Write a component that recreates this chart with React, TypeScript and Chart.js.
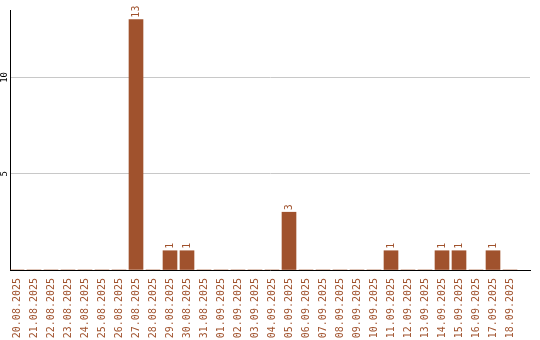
import { useEffect, useRef } from 'react';
import { Chart, registerables } from 'chart.js';

Chart.register(...registerables);

const categories = [
  '20.08.2025', '21.08.2025', '22.08.2025', '23.08.2025', '24.08.2025',
  '25.08.2025', '26.08.2025', '27.08.2025', '28.08.2025', '29.08.2025',
  '30.08.2025', '31.08.2025', '01.09.2025', '02.09.2025', '03.09.2025',
  '04.09.2025', '05.09.2025', '06.09.2025', '07.09.2025', '08.09.2025',
  '09.09.2025', '10.09.2025', '11.09.2025', '12.09.2025', '13.09.2025',
  '14.09.2025', '15.09.2025', '16.09.2025', '17.09.2025', '18.09.2025',
];
const counts = [0, 0, 0, 0, 0, 0, 0, 13, 0, 1, 1, 0, 0, 0, 0, 0, 3, 0, 0, 0, 0, 0, 1, 0, 0, 1, 1, 0, 1, 0];
const yTickLabels = [5, 10];
const yGridValues = [0, 5, 10];

const BAR = '#a0522d';
const MONO = "'DejaVu Sans Mono', 'Liberation Mono', monospace";

const labelsPlugin = {
  id: 'customLabels',
  afterDraw(chart: any) {
    const ctx = chart.ctx;
    const meta = chart.getDatasetMeta(0);
    ctx.save();
    ctx.font = `10px ${MONO}`;
    ctx.fillStyle = BAR;
    ctx.textAlign = 'left';
    ctx.textBaseline = 'middle';
    meta.data.forEach((el: any, i: number) => {
      const v = counts[i];
      if (!v) return;
      ctx.save();
      ctx.translate(el.x, el.y - 2);
      ctx.rotate(-Math.PI / 2);
      ctx.fillText(String(v), 0, 0);
      ctx.restore();
    });
    const y = chart.scales.y;
    ctx.fillStyle = '#000';
    ctx.font = `9px ${MONO}`;
    ctx.textAlign = 'center';
    yTickLabels.forEach((t) => {
      const py = y.getPixelForValue(t);
      ctx.save();
      ctx.translate(5, py);
      ctx.rotate(-Math.PI / 2);
      ctx.fillText(String(t), 0, 0);
      ctx.restore();
    });
    ctx.restore();
  },
};

export default function App() {
  const ref = useRef<HTMLCanvasElement | null>(null);
  useEffect(() => {
    if (!ref.current) return;
    const chart = new Chart(ref.current, {
      type: 'bar',
      data: {
        datasets: [
          {
            data: counts.map((v, i) => ({ x: i, y: v })) as any,
            backgroundColor: BAR,
            borderWidth: 0,
            barThickness: 14,
          },
        ],
      },
      options: {
        animation: false,
        responsive: true,
        maintainAspectRatio: false,
        layout: { padding: { top: 10, right: 10, left: 0, bottom: 0 } },
        plugins: { legend: { display: false }, tooltip: { enabled: false } },
        scales: {
          x: {
            type: 'linear',
            offset: false,
            min: -7 / 17,
            max: 513 / 17,
            grid: { display: false, drawTicks: false },
            border: { display: true, color: '#000', width: 1 },
            afterBuildTicks: (scale: any) => {
              scale.ticks = categories.map((_, i) => ({ value: i }));
            },
            afterFit: (scale: any) => {
              scale.height = 70;
              scale.paddingLeft = 0;
              scale.paddingRight = 0;
            },
            ticks: {
              autoSkip: false,
              minRotation: 90,
              maxRotation: 90,
              padding: 8,
              color: BAR,
              font: { family: MONO, size: 10 },
              callback: (v: any) => categories[Math.round(Number(v))] ?? '',
            },
          },
          y: {
            min: 0,
            max: 13.5,
            ticks: { display: false, stepSize: 5 },
            grid: { color: '#c8c8c8', drawTicks: false },
            border: { display: true, color: '#000', width: 1 },
            afterBuildTicks: (scale: any) => {
              scale.ticks = yGridValues.map((v) => ({ value: v }));
            },
            afterFit: (scale: any) => {
              scale.width = 10;
              scale.paddingTop = 0;
              scale.paddingBottom = 0;
            },
          },
        },
      },
      plugins: [labelsPlugin],
    });
    return () => chart.destroy();
  }, []);
  return (
    <div style={{ position: 'fixed', left: 0, top: 0, width: 540, height: 340, background: '#fff' }}>
      <canvas ref={ref} />
    </div>
  );
}
